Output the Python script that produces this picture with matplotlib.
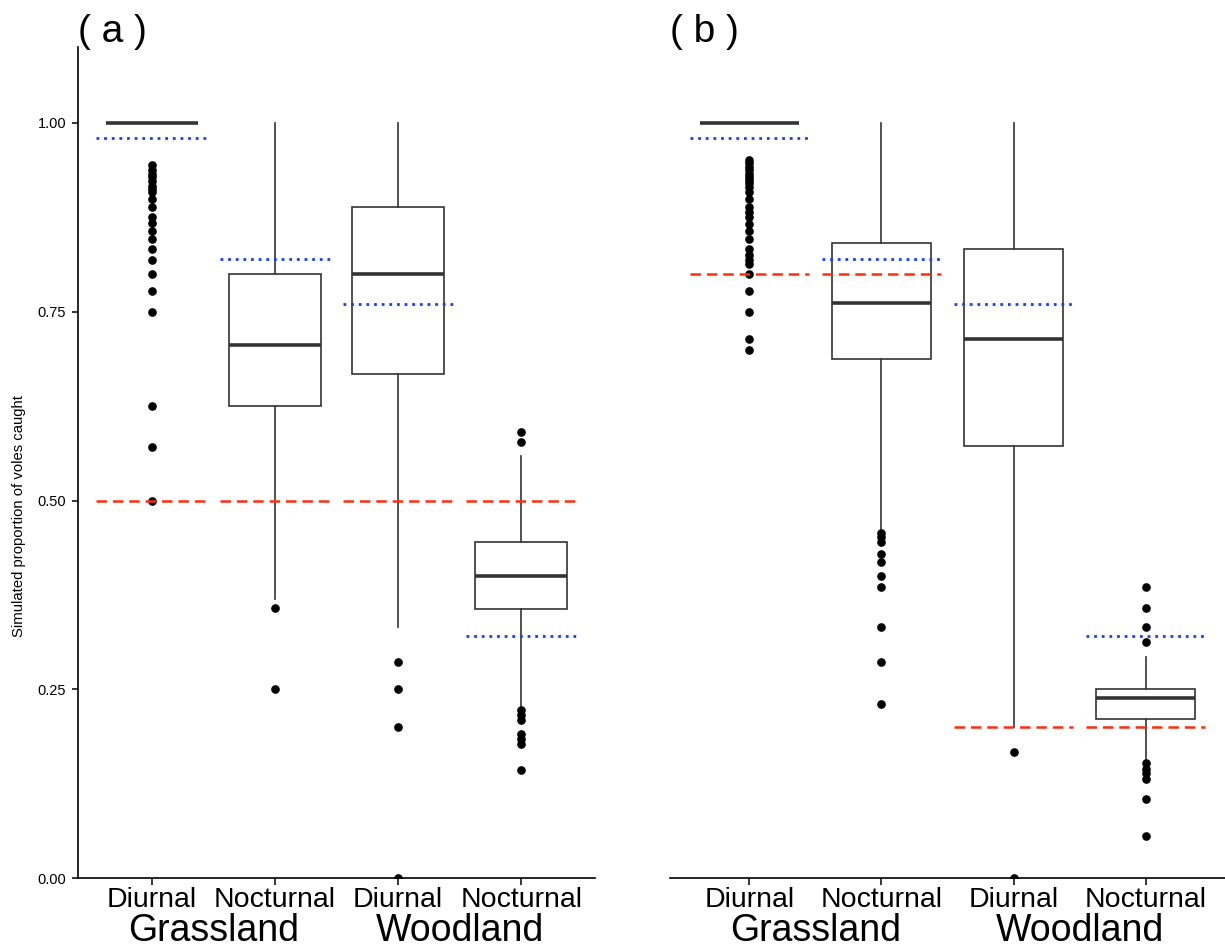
import matplotlib
matplotlib.use('Agg')
import matplotlib.pyplot as plt
from matplotlib.transforms import blended_transform_factory

plt.rcParams['font.family'] = ['Liberation Sans', 'DejaVu Sans']
plt.rcParams['lines.scale_dashes'] = False

# ---------------- data ----------------
categories = ["Diurnal", "Nocturnal", "Diurnal", "Nocturnal"]
habitats = ["Grassland", "Woodland"]
panel_labels = ["( a )", "( b )"]
y_ticks = [0.0, 0.25, 0.5, 0.75, 1.0]
y_label = "Simulated proportion of voles caught"

# panel (a)
a_whislo = [1.0, 0.370, 0.333, 0.227]
a_q1 = [1.0, 0.625, 0.667, 0.356]
a_med = [1.0, 0.706, 0.800, 0.400]
a_q3 = [1.0, 0.800, 0.889, 0.445]
a_whishi = [1.0, 1.0, 1.0, 0.559]
a_fliers = [
    [0.944, 0.9375, 0.933, 0.929, 0.923, 0.917, 0.913, 0.909, 0.900, 0.889,
     0.875, 0.867, 0.857, 0.846, 0.833, 0.818, 0.800, 0.778, 0.750, 0.625,
     0.571, 0.500],
    [0.357, 0.250],
    [0.286, 0.250, 0.200, 0.0],
    [0.591, 0.577, 0.222, 0.216, 0.209, 0.191, 0.184, 0.177, 0.143],
]
a_observed = [0.98, 0.82, 0.76, 0.32]   # blue dotted
a_expected = [0.50, 0.50, 0.50, 0.50]   # red dashed

# panel (b)
b_whislo = [1.0, 0.462, 0.200, 0.158]
b_q1 = [1.0, 0.687, 0.572, 0.211]
b_med = [1.0, 0.762, 0.714, 0.238]
b_q3 = [1.0, 0.841, 0.833, 0.250]
b_whishi = [1.0, 1.0, 1.0, 0.293]
b_fliers = [
    [0.951, 0.947, 0.942, 0.938, 0.933, 0.929, 0.924, 0.920, 0.915, 0.909,
     0.900, 0.889, 0.882, 0.875, 0.866, 0.857, 0.846, 0.833, 0.825, 0.819,
     0.813, 0.800, 0.778, 0.750, 0.714, 0.700],
    [0.457, 0.451, 0.445, 0.429, 0.418, 0.400, 0.385, 0.333, 0.286, 0.231],
    [0.167, 0.0],
    [0.385, 0.357, 0.333, 0.312, 0.152, 0.145, 0.139, 0.131, 0.105, 0.056],
]
b_observed = [0.98, 0.82, 0.76, 0.32]
b_expected = [0.80, 0.80, 0.20, 0.20]

# ---------------- figure ----------------
W, H = 1225, 949
fig = plt.figure(figsize=(W / 100, H / 100), dpi=100)
ax_a = fig.add_axes([78 / W, 71 / H, 517 / W, 830.5 / H])
ax_b = fig.add_axes([670 / W, 71 / H, 555 / W, 830.5 / H])

BOX_C = '#333333'
RED = '#FF2E0A'
BLUE = '#1A3CFF'


def draw_panel(ax, whislo, q1, med, q3, whishi, fliers, observed, expected,
               label, show_y):
    pos = list(range(1, len(categories) + 1))
    stats = []
    for i in range(len(categories)):
        stats.append(dict(whislo=whislo[i], q1=q1[i], med=med[i], q3=q3[i],
                          whishi=whishi[i], fliers=fliers[i],
                          label=categories[i]))
    ax.bxp(stats, positions=pos, widths=0.75, showcaps=False,
           patch_artist=True,
           boxprops=dict(facecolor='white', edgecolor=BOX_C, linewidth=1.2),
           whiskerprops=dict(color=BOX_C, linewidth=1.2),
           medianprops=dict(color=BOX_C, linewidth=2.6,
                            solid_capstyle='butt'),
           flierprops=dict(marker='o', markerfacecolor='black',
                           markeredgecolor='black', markersize=5.2,
                           linestyle='none'),
           zorder=2)
    for p, yo, ye in zip(pos, observed, expected):
        ax.hlines(ye, p - 0.45, p + 0.45, colors=RED, linewidth=1.8,
                  linestyles=(0, (7.5, 4.3)), zorder=4)
        ax.hlines(yo, p - 0.45, p + 0.45, colors=BLUE, linewidth=2.0,
                  linestyles=(0, (2.0, 3.5)), zorder=4)

    ax.set_xlim(0.4, 4.6)
    ax.set_ylim(0, 1.1)
    ax.set_xticks(pos)
    ax.set_xticklabels(categories, fontsize=20.5)
    ax.tick_params(axis='x', length=5, width=1.1, pad=1.4, colors='black')
    for s in ['top', 'right']:
        ax.spines[s].set_visible(False)
    ax.spines['bottom'].set_linewidth(1.2)
    if show_y:
        ax.spines['left'].set_linewidth(1.2)
        ax.set_yticks(y_ticks)
        ax.set_yticklabels([f"{v:.2f}" for v in y_ticks], fontsize=10.5)
        ax.tick_params(axis='y', length=4, width=1.1, pad=4.5)
        ax.set_ylabel(y_label, fontsize=10.7)
        lab = ax.yaxis.label
        ax.yaxis.set_label_coords((19 - 78) / 517, (878 - 516) / 830.5)
        lab.set_va('center')
        lab.set_ha('center')
        lab.set_rotation_mode('default')
    else:
        ax.spines['left'].set_visible(False)
        ax.set_yticks([])

    tr = blended_transform_factory(ax.transData, ax.transAxes)
    for j, hab in enumerate(habitats):
        ax.text(1.5 + 2 * j, (878 - 941) / 830.5, hab, transform=tr,
                ha='center', va='baseline', fontsize=27)
    ax.text(0.0, 1.0072, label, transform=ax.transAxes, ha='left',
            va='baseline', fontsize=28)
    ax.set_facecolor('white')


draw_panel(ax_a, a_whislo, a_q1, a_med, a_q3, a_whishi, a_fliers,
           a_observed, a_expected, panel_labels[0], True)
draw_panel(ax_b, b_whislo, b_q1, b_med, b_q3, b_whishi, b_fliers,
           b_observed, b_expected, panel_labels[1], False)

fig.savefig('out.png', dpi=100, facecolor='white')
